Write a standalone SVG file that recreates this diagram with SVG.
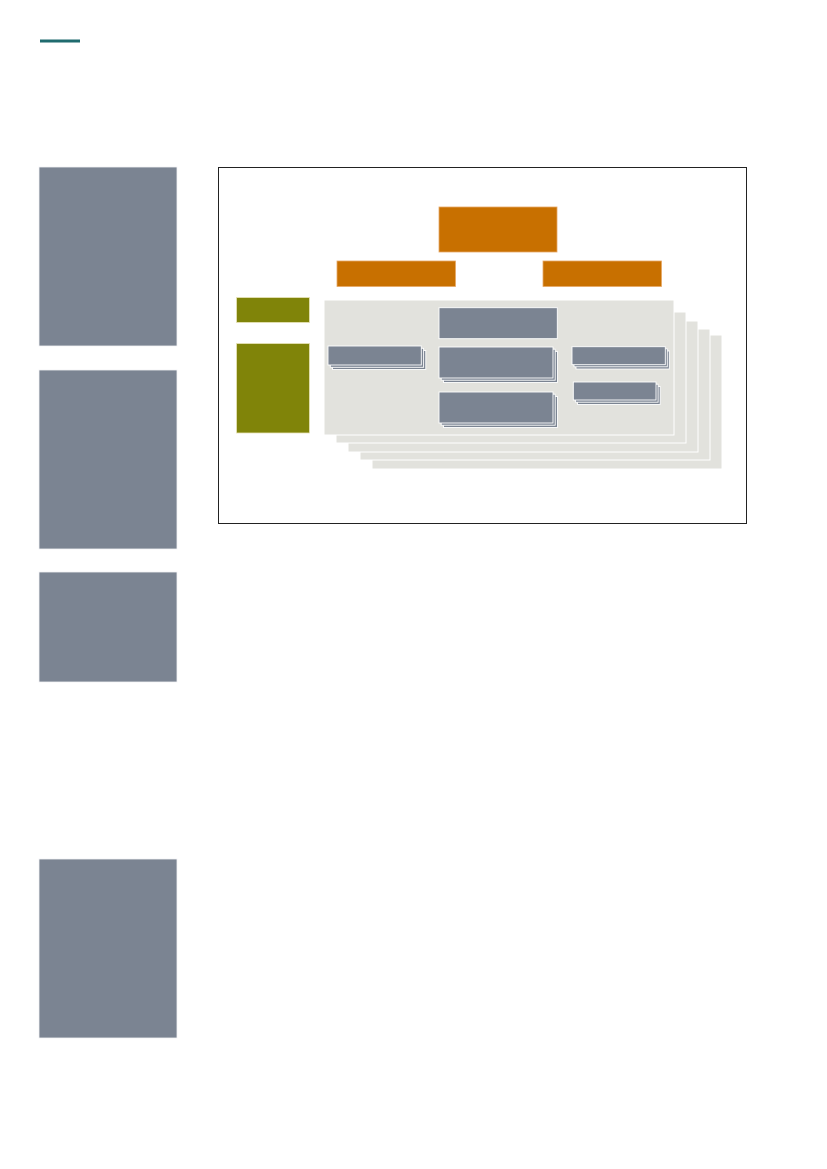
<svg xmlns="http://www.w3.org/2000/svg" xmlns:xlink="http://www.w3.org/1999/xlink" width="827" height="1169" viewBox="0 0 827 1169">
<style>
.side{fill:#7b8492;stroke:#f2f3f5;stroke-width:0.8}
.layer{fill:#e2e2dd;stroke:#ffffff;stroke-width:1}
.org{fill:#c87000;stroke:#e6a866;stroke-width:0.8}
.olv{fill:#808409;stroke:#e8e4b8;stroke-width:0.8}
.box{fill:#7b8492;stroke:#ffffff;stroke-width:0.9}
</style>
<defs>
<g id="stackD"><rect class="box" x="332.5" y="350.5" width="93.3" height="19"/><rect class="box" x="330.3" y="348.3" width="93.3" height="19"/><rect class="box" x="328" y="346" width="93.3" height="19"/></g>
</defs>
<rect width="827" height="1169" fill="#ffffff"/>
<rect x="40" y="39.5" width="40" height="3" fill="#1f6b6e"/>
<g id="sidebar">
<rect class="side" x="39" y="167" width="138" height="179"/>
<rect class="side" x="39" y="370" width="138" height="179"/>
<rect class="side" x="39" y="572" width="138" height="110"/>
<rect class="side" x="39" y="859" width="138" height="179"/>
</g>
<rect id="frame" x="218.5" y="167.5" width="528" height="356" fill="none" stroke="#222222" stroke-width="1"/>
<g id="layers">
<rect class="layer" x="372" y="335" width="350" height="134"/>
<rect class="layer" x="360" y="329" width="350" height="131"/>
<rect class="layer" x="348" y="321" width="350" height="131"/>
<rect class="layer" x="336" y="312" width="350" height="131"/>
<rect class="layer" x="324" y="300" width="350" height="135"/>
</g>
<g id="top"><rect class="org" x="439" y="207" width="118" height="45"/></g>
<g id="orange-left"><rect class="org" x="337" y="261" width="118.5" height="25.5"/></g>
<g id="orange-right"><rect class="org" x="543" y="261" width="118.5" height="25.5"/></g>
<g id="olive-top"><rect class="olv" x="236.5" y="297.5" width="73" height="25"/></g>
<g id="olive-main"><rect class="olv" x="236.5" y="343.5" width="73" height="89.5"/></g>
<g id="box-a"><rect class="box" x="439" y="307.7" width="118.3" height="31"/></g>
<g id="box-b">
<rect class="box" x="443.5" y="351.5" width="114" height="31"/>
<rect class="box" x="441.2" y="349.2" width="114" height="31"/>
<rect class="box" x="439" y="347" width="114" height="31"/>
</g>
<g id="box-c">
<rect class="box" x="443.5" y="396.5" width="114" height="31"/>
<rect class="box" x="441.2" y="394.2" width="114" height="31"/>
<rect class="box" x="439" y="392" width="114" height="31"/>
</g>
<g id="box-d"><use xlink:href="#stackD"/></g>
<g id="box-e">
<rect class="box" x="576" y="351" width="93.3" height="18"/>
<rect class="box" x="574" y="348.8" width="93.3" height="18"/>
<rect class="box" x="572" y="346.7" width="93.3" height="18"/>
</g>
<g id="box-f">
<rect class="box" x="577.5" y="386.5" width="82.7" height="18"/>
<rect class="box" x="575.4" y="384.2" width="82.7" height="18"/>
<rect class="box" x="573.3" y="382" width="82.7" height="18"/>
</g>
<g id="connectors"></g>
</svg>
